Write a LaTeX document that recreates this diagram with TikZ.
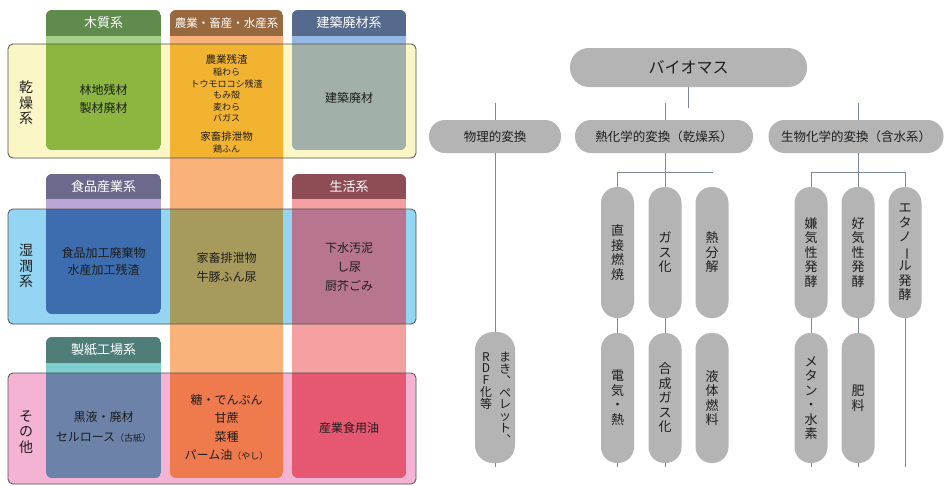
\documentclass[tikz,border=0pt]{standalone}
\usepackage{fontspec}
\setmainfont{Noto Sans CJK JP}
\definecolor{rowdry}{HTML}{FAF6C6}
\definecolor{rowwet}{HTML}{93D5F2}
\definecolor{rowoth}{HTML}{F4B3D2}
\definecolor{rowline}{HTML}{505050}
\definecolor{gHead}{HTML}{5F8B4C}
\definecolor{gStrip}{HTML}{A5D08A}
\definecolor{gIn}{HTML}{8DB640}
\definecolor{oHead}{HTML}{98693F}
\definecolor{oStrip}{HTML}{F8B27A}
\definecolor{oDry}{HTML}{F2B331}
\definecolor{oWet}{HTML}{A69A5C}
\definecolor{oOth}{HTML}{EE7A4D}
\definecolor{bHead}{HTML}{566A8D}
\definecolor{bStrip}{HTML}{93B8E3}
\definecolor{bIn}{HTML}{A1B0A8}
\definecolor{fHead}{HTML}{6B6A8C}
\definecolor{fStrip}{HTML}{BBA7D6}
\definecolor{fIn}{HTML}{3D6DAE}
\definecolor{lHead}{HTML}{8E4D55}
\definecolor{lStrip}{HTML}{F4A0A0}
\definecolor{lWet}{HTML}{B7758F}
\definecolor{lOth}{HTML}{E65872}
\definecolor{pHead}{HTML}{4F7E79}
\definecolor{pStrip}{HTML}{7DCFD0}
\definecolor{pIn}{HTML}{6C82A8}
\definecolor{pillgray}{HTML}{B4B4B4}
\definecolor{linegray}{HTML}{7A8A96}
\definecolor{txt}{HTML}{1E1E1E}
\tikzset{
  headtxt/.style={text=white, font=\fontsize{13}{15}\selectfont, inner sep=0pt},
  celltxt/.style={text=txt, align=center, font=\fontsize{12}{18}\selectfont, inner sep=0pt},
  rowlab/.style={text=txt, align=center, font=\fontsize{14}{15.5}\selectfont, inner sep=0pt},
  rowbox/.style={draw=rowline, line width=0.8pt, rounded corners=5},
  pill/.style={fill=pillgray, text=txt, inner sep=0pt},
  hpill/.style={pill, minimum height=33, rounded corners=16, font=\fontsize{12.5}{14}\selectfont},
  vpill/.style={pill, minimum width=33, minimum height=131, rounded corners=16, align=center, font=\fontsize{13}{14.5}\selectfont},
  vtext/.style={text=txt, align=center, inner sep=0pt, font=\fontsize{12}{11.8}\selectfont},
  conn/.style={draw=linegray, line width=1pt}
}
\newcommand{\vbar}{\rotatebox[origin=c]{-90}{ー}}
\begin{document}
\begin{tikzpicture}[x=1pt,y=-1pt]
\useasboundingbox (0,0) rectangle (947,485);
\fill[white] (0,0) rectangle (947,485);
% rows fill
\fill[rowdry, rounded corners=5] (8,44) rectangle (416,158);
\fill[rowwet, rounded corners=5] (8,209) rectangle (416,324);
\fill[rowoth, rounded corners=5] (8,373) rectangle (416,484);
% wood column
\begin{scope}
\clip[rounded corners=6] (46,10) rectangle (161,150);
\fill[gStrip] (46,10) rectangle (161,150);
\fill[gHead] (46,10) rectangle (161,36);
\fill[gIn] (46,44) rectangle (161,150);
\end{scope}
% agriculture column
\begin{scope}
\clip[rounded corners=6] (170,10) rectangle (283,478);
\fill[oStrip] (170,10) rectangle (283,478);
\fill[oHead] (170,10) rectangle (283,36);
\fill[oDry] (170,44) rectangle (283,158);
\fill[oWet] (170,209) rectangle (283,324);
\fill[oOth] (170,373) rectangle (283,478);
\end{scope}
% construction column
\begin{scope}
\clip[rounded corners=6] (292,10) rectangle (406,150);
\fill[bStrip] (292,10) rectangle (406,150);
\fill[bHead] (292,10) rectangle (406,36);
\fill[bIn] (292,44) rectangle (406,150);
\end{scope}
% food column
\begin{scope}
\clip[rounded corners=6] (46,174) rectangle (161,314);
\fill[fStrip] (46,174) rectangle (161,314);
\fill[fHead] (46,174) rectangle (161,199);
\fill[fIn] (46,209) rectangle (161,314);
\end{scope}
% life column
\begin{scope}
\clip[rounded corners=6] (292,174) rectangle (406,478);
\fill[lStrip] (292,174) rectangle (406,478);
\fill[lHead] (292,174) rectangle (406,199);
\fill[lWet] (292,209) rectangle (406,324);
\fill[lOth] (292,373) rectangle (406,478);
\end{scope}
% paper column
\begin{scope}
\clip[rounded corners=6] (46,337) rectangle (161,478);
\fill[pStrip] (46,337) rectangle (161,478);
\fill[pHead] (46,337) rectangle (161,363);
\fill[pIn] (46,373) rectangle (161,478);
\end{scope}
% row outlines
\draw[rowbox] (8,44) rectangle (416,158);
\draw[rowbox] (8,209) rectangle (416,324);
\draw[rowbox] (8,373) rectangle (416,484);
% headers
\node[headtxt] (h1) at (103.5,23) {木質系};
\node[headtxt, font=\fontsize{11.5}{13}\selectfont] (h2) at (226.5,23) {農業・畜産・水産系};
\node[headtxt] (h3) at (349,23) {建築廃材系};
\node[headtxt] (h4) at (103.5,187) {食品産業系};
\node[headtxt] (h5) at (349,187) {生活系};
\node[headtxt] (h6) at (103.5,350) {製紙工場系};
% row labels
\node[rowlab] (r1) at (26,103) {乾\\燥\\系};
\node[rowlab] (r2) at (26,266) {湿\\潤\\系};
\node[rowlab] (r3) at (26,432) {そ\\の\\他};
% cells
\node[celltxt] (c11) at (103.5,99) {林地残材\\製材廃材};
\node[celltxt, font=\fontsize{10.5}{12}\selectfont] (c12a) at (226.5,59) {農業残渣};
\node[celltxt, font=\fontsize{9}{11.5}\selectfont] (c12b) at (226.5,95) {稲わら\\トウモロコシ残渣\\もみ殻\\麦わら\\バガス};
\node[celltxt, font=\fontsize{10.5}{12}\selectfont] (c12c) at (226.5,137) {家畜排泄物};
\node[celltxt, font=\fontsize{9}{11}\selectfont] (c12d) at (226.5,149) {鶏ふん};
\node[celltxt] (c13) at (349,98) {建築廃材};
\node[celltxt, font=\fontsize{12}{17}\selectfont] (c21) at (103.5,261.5) {食品加工廃棄物\\水産加工残渣};
\node[celltxt, font=\fontsize{12}{19}\selectfont] (c22) at (226.5,267) {家畜排泄物\\牛豚ふん尿};
\node[celltxt, font=\fontsize{12}{19}\selectfont] (c23) at (349,267) {下水汚泥\\し尿\\厨芥ごみ};
\node[celltxt, font=\fontsize{12}{20}\selectfont] (c31) at (103.5,427) {黒液・廃材\\セルロース{\fontsize{9}{9}\selectfont（古紙）}};
\node[celltxt, font=\fontsize{12}{18.5}\selectfont] (c32) at (226.5,427.5) {糖・でんぷん\\甘蔗\\菜種\\パーム油{\fontsize{9}{9}\selectfont（やし）}};
\node[celltxt] (c33) at (349,428) {産業食用油};
% ===== right tree =====
\node[pill, minimum width=237, minimum height=39, rounded corners=19, font=\fontsize{16}{18}\selectfont] (bio) at (688.5,67.5) {バイオマス};
\node[hpill, minimum width=132] (phys) at (495,136.5) {物理的変換};
\node[hpill, minimum width=178] (thermo) at (664,136.5) {熱化学的変換（乾燥系）};
\node[hpill, minimum width=175] (biochem) at (856,136.5) {生物化学的変換（含水系）};
\coordinate (bstub) at (688.5,108);
\coordinate (pstub) at (495,103);
\coordinate (tstub) at (665,103);
\coordinate (cstub) at (858,103);
\draw[conn] (bio.south) -- (bstub);
\draw[conn] (pstub) -- (phys.north);
\draw[conn] (tstub) -- (665,120);
\draw[conn] (cstub) -- (858,120);
% level 3 thermo
\node[vpill] (d1) at (617.5,252.5) {直\\接\\燃\\焼};
\node[vpill] (d2) at (665,252.5) {ガ\\ス\\化};
\node[vpill] (d3) at (712,252.5) {熱\\分\\解};
\node[vpill, minimum height=130] (e1) at (617.5,398) {電\\気\\・\\熱};
\node[vpill, minimum height=130] (e2) at (665,398) {合\\成\\ガ\\ス\\化};
\node[vpill, minimum height=130] (e3) at (712,398) {液\\体\\燃\\料};
\coordinate (tj) at (665,172);
\coordinate (tl) at (617.5,172);
\coordinate (tr) at (713,172);
\draw[conn] (665,153) -- (tj);
\draw[conn] (tl) -- (tr);
\draw[conn] (tl) -- (d1.north);
\draw[conn] (tj) -- (d2.north);
\draw[conn] (d1.south) -- (e1.north);
\draw[conn] (d2.south) -- (e2.north);
\coordinate (e1b) at (617.5,467);
\coordinate (e2b) at (665,467);
\draw[conn] (e1.south) -- (e1b);
\draw[conn] (e2.south) -- (e2b);
% level 3 biochem
\node[vpill] (g1) at (811,252.5) {嫌\\気\\性\\発\\酵};
\node[vpill] (g2) at (858,252.5) {好\\気\\性\\発\\酵};
\node[vpill] (g3) at (905,252.5) {エ\\タ\\ノ\\\vbar\\ル\\発\\酵};
\node[vpill, minimum height=130] (k1) at (811,398) {メ\\タ\\ン\\・\\水\\素};
\node[vpill, minimum height=130] (k2) at (858,398) {肥\\料};
\coordinate (bj) at (858,172);
\coordinate (bl) at (811,172);
\coordinate (br) at (905,172);
\draw[conn] (858,153) -- (bj);
\draw[conn] (bl) -- (br);
\draw[conn] (bl) -- (g1.north);
\draw[conn] (bj) -- (g2.north);
\draw[conn] (br) -- (g3.north);
\draw[conn] (g1.south) -- (k1.north);
\draw[conn] (g2.south) -- (k2.north);
\coordinate (k1b) at (811,467);
\coordinate (k2b) at (858,467);
\coordinate (g3b) at (905,467);
\draw[conn] (k1.south) -- (k1b);
\draw[conn] (k2.south) -- (k2b);
\draw[conn] (g3.south) -- (g3b);
% physical branch
\node[pill, minimum width=40, minimum height=131, rounded corners=18] (pel) at (495,397.5) {};
\node[vtext, anchor=north] (pel1) at (505,352) {ま\\き\\︑\\ペ\\レ\\ッ\\ト\\︑};
\node[vtext, anchor=north] (pel2) at (486,352) {R\\D\\F\\化\\等};
\coordinate (pelb) at (495,467);
\draw[conn] (phys.south) -- (pel.north);
\draw[conn] (pel.south) -- (pelb);
\end{tikzpicture}
\end{document}
